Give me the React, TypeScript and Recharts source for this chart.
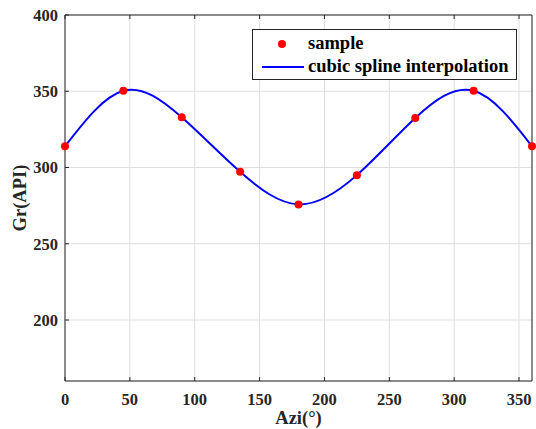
import React from "react";
import {
  ComposedChart,
  Line,
  Scatter,
  XAxis,
  YAxis,
  CartesianGrid,
  Legend,
} from "recharts";

const azimuths = [0, 45, 90, 135, 180, 225, 270, 315, 360];
const grValues = [313.9, 350.3, 332.9, 297.2, 275.8, 295.0, 332.5, 350.3, 313.9];
const xTicks = [0, 50, 100, 150, 200, 250, 300, 350];
const yTicks = [200, 250, 300, 350, 400];

const data = azimuths.map((azi, i) => ({ azi, gr: grValues[i] }));

const FONT = "'Liberation Serif', 'Times New Roman', serif";
const AXIS = "#262626";

const tickStyle = {
  fontFamily: FONT,
  fontWeight: "bold" as const,
  fontSize: 16.5,
  fill: AXIS,
};

const labelStyle = {
  fontFamily: FONT,
  fontWeight: "bold" as const,
  fontSize: 18.5,
  fill: AXIS,
};

const renderLegend = () => (
  <div
    style={{
      border: `1px solid ${AXIS}`,
      background: "#fff",
      width: 263,
      height: 49,
      boxSizing: "content-box",
      fontFamily: FONT,
      fontWeight: "bold",
      fontSize: 18.5,
      color: "#000",
      position: "relative",
    }}
  >
    <div style={{ position: "absolute", left: 24.5, top: 9.5, width: 8, height: 8, borderRadius: 4, background: "#ff0000" }} />
    <div style={{ position: "absolute", left: 55, top: 3, lineHeight: "20px", whiteSpace: "nowrap" }}>sample</div>
    <div style={{ position: "absolute", left: 8.5, top: 36, width: 42, height: 2, background: "#0000ff" }} />
    <div style={{ position: "absolute", left: 55, top: 26, lineHeight: "20px", whiteSpace: "nowrap" }}>
      cubic spline interpolation
    </div>
  </div>
);

export default function App() {
  return (
    <div style={{ position: "absolute", left: 0, top: 0, background: "#fff" }}>
      <ComposedChart
        width={536}
        height={429}
        data={data}
        margin={{ top: 0, right: 0, bottom: 0, left: 0 }}
      >
        <CartesianGrid stroke="#dedede" strokeWidth={1} />
        <XAxis
          dataKey="azi"
          type="number"
          domain={[0, 360]}
          ticks={xTicks}
          interval={0}
          height={48}
          tickSize={-4}
          tickMargin={16}
          stroke={AXIS}
          tick={tickStyle}
          tickLine={{ stroke: AXIS }}
          axisLine={{ stroke: AXIS }}
          label={{
            value: "Azi(°)",
            content: (props: any) => {
              const vb = props.viewBox || { x: 65, y: 381, width: 467, height: 48 };
              const cx = vb.x + vb.width / 2;
              return (
                <text x={cx} y={424} textAnchor="middle" style={labelStyle}>
                  Azi(°)
                </text>
              );
            },
          }}
        />
        <XAxis
          xAxisId="top"
          orientation="top"
          dataKey="azi"
          type="number"
          domain={[0, 360]}
          ticks={xTicks}
          interval={0}
          height={15}
          tickSize={-4}
          tickFormatter={() => ""}
          stroke={AXIS}
          tickLine={{ stroke: AXIS }}
          axisLine={{ stroke: AXIS }}
        />
        <YAxis
          type="number"
          domain={[160, 400]}
          ticks={yTicks}
          interval={0}
          width={65}
          tickSize={-4}
          tickMargin={11}
          stroke={AXIS}
          tick={tickStyle}
          tickLine={{ stroke: AXIS }}
          axisLine={{ stroke: AXIS }}
          label={{
            value: "Gr(API)",
            content: (props: any) => {
              const vb = props.viewBox || { x: 0, y: 15, width: 65, height: 366 };
              const cx = 20;
              const cy = vb.y + vb.height / 2;
              return (
                <text
                  x={cx}
                  y={cy}
                  transform={`rotate(-90 ${cx} ${cy})`}
                  textAnchor="middle"
                  dominantBaseline="central"
                  style={labelStyle}
                >
                  Gr(API)
                </text>
              );
            },
          }}
        />
        <YAxis
          yAxisId="right"
          orientation="right"
          type="number"
          domain={[160, 400]}
          ticks={yTicks}
          interval={0}
          width={4}
          tickSize={-4}
          tickFormatter={() => ""}
          stroke={AXIS}
          tickLine={{ stroke: AXIS }}
          axisLine={{ stroke: AXIS }}
        />
        <Line
          dataKey="gr"
          type="natural"
          stroke="#0000ff"
          strokeWidth={2}
          dot={false}
          activeDot={false}
          isAnimationActive={false}
          name="cubic spline interpolation"
        />
        <Scatter
          dataKey="gr"
          fill="#ff0000"
          shape={(p: any) => <circle cx={p.cx} cy={p.cy} r={4} fill="#ff0000" />}
          isAnimationActive={false}
          name="sample"
        />
        <Legend
          layout="vertical"
          align="center"
          verticalAlign="middle"
          content={renderLegend}
          wrapperStyle={{ left: 252, top: 29, width: 265, height: 51 }}
        />
      </ComposedChart>
    </div>
  );
}
